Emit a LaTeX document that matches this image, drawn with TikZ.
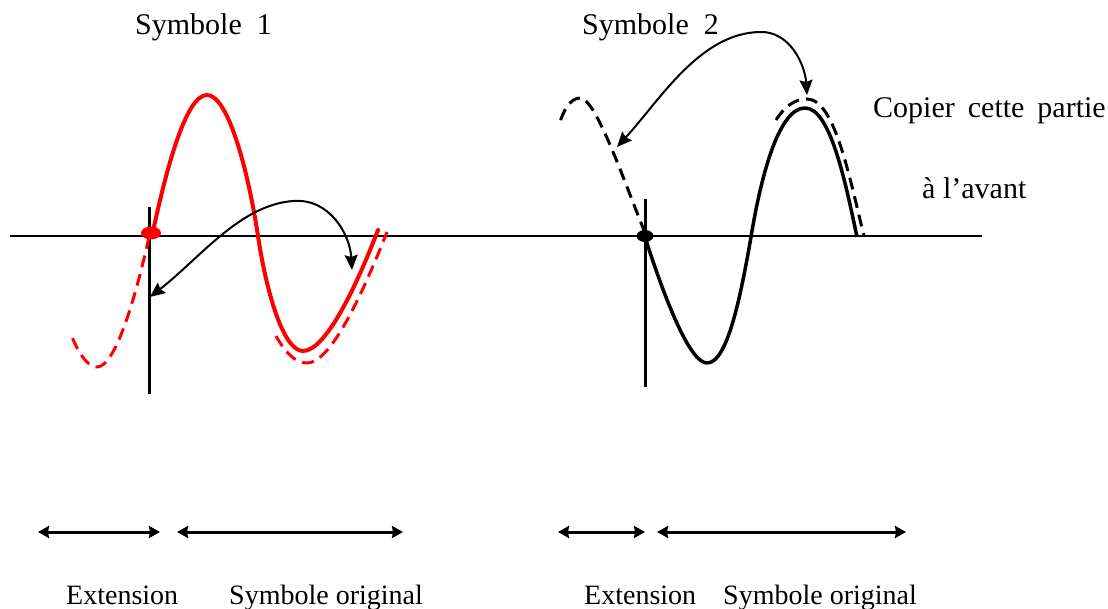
\documentclass[tikz,border=0pt]{standalone}
\usepackage{fontspec}
\setmainfont{Liberation Serif}
\usetikzlibrary{arrows.meta}
\begin{document}
\begin{tikzpicture}[x=1pt,y=-1pt,
  axisline/.style={line width=2pt},
  vline/.style={line width=3pt},
  redsolid/.style={red,line width=4pt,line join=round,line cap=round},
  reddash/.style={red,line width=3pt,dash pattern=on 12pt off 7pt},
  blksolid/.style={black,line width=3.5pt,line join=round},
  blkdash/.style={black,line width=3pt,dash pattern=on 12pt off 7pt},
  curvearrow/.style={line width=2pt,{Stealth[length=15pt,width=13pt,inset=2pt]}-{Stealth[length=15pt,width=13pt,inset=2pt]}},
  spanarrow/.style={line width=3pt,{Stealth[length=11pt,width=12pt,inset=1pt]}-{Stealth[length=11pt,width=12pt,inset=1pt]}},
  toplabel/.style={font=\fontsize{30}{36}\selectfont,inner sep=0pt,anchor=base west},
  botlabel/.style={font=\fontsize{28}{34}\selectfont,inner sep=0pt,anchor=base west},
]
\useasboundingbox (0,0) rectangle (1108,609);

% axis
\coordinate (axL) at (10,236);
\coordinate (axR) at (982,236);
\draw[axisline] (axL) -- (axR);

% ===== Symbole 1 =====
\coordinate (v1t) at (149,207);
\coordinate (v1b) at (149,394);
\draw[vline] (v1t) -- (v1b);
% dashed extension
\draw[reddash] (149,237) .. controls (135,300) and (115,367) .. (97,367) .. controls (85,367) and (75,345) .. (70,332);
% dashed copy near trough
\draw[reddash] (276,336) .. controls (285,352) and (295,363) .. (307,363) .. controls (330,363) and (360,300) .. (387,232);
% solid red
\draw[redsolid] (152,236) .. controls (165,175) and (185,95) .. (207,95)
  .. controls (228,95) and (248,170) .. (258,236)
  .. controls (266,290) and (283,351) .. (303,351)
  .. controls (325,351) and (355,290) .. (378,230);
\fill[red] (151,233) ellipse [x radius=10, y radius=6.5];
% arrow
\coordinate (a1s) at (150,297);
\coordinate (a1m) at (293,201);
\coordinate (a1e) at (352,270);
\draw[curvearrow] (a1s) .. controls (200,258) and (240,205) .. (a1m) .. controls (330,198) and (350,235) .. (a1e);

% ===== Symbole 2 =====
\coordinate (v2t) at (645,199);
\coordinate (v2b) at (645,387);
\draw[vline] (v2t) -- (v2b);
\draw[blkdash] (645,233) .. controls (620,170) and (595,98) .. (580,98) .. controls (570,98) and (563,112) .. (560,122);
\draw[blkdash] (776,120) .. controls (785,106) and (795,99) .. (807,99) .. controls (835,99) and (850,180) .. (864,236);
\draw[blksolid] (645,237) .. controls (665,300) and (690,363) .. (707,363)
  .. controls (727,363) and (740,300) .. (751,237)
  .. controls (762,170) and (780,108) .. (805,108)
  .. controls (830,108) and (845,180) .. (857,237);
\fill[black] (645,236) ellipse [x radius=8.5, y radius=6];
\coordinate (a2s) at (617,147);
\coordinate (a2m) at (760,32);
\coordinate (a2e) at (807,95);
\draw[curvearrow] (a2s) .. controls (660,100) and (700,33) .. (a2m) .. controls (790,31) and (805,65) .. (a2e);

% labels
\node[toplabel] (t1) at (135,35) {Symbole\hspace{15pt}1};
\node[toplabel] (t2) at (582,35) {Symbole\hspace{15pt}2};
\node[toplabel] (t3) at (873,118) {Copier\hspace{13pt}cette\hspace{13pt}partie};
\node[toplabel] (t4) at (922,199) {à l’avant};

% span arrows
\coordinate (b1a) at (38,532);  \coordinate (b1b) at (160,532);
\coordinate (b2a) at (177,532); \coordinate (b2b) at (403,532);
\coordinate (b3a) at (558,532); \coordinate (b3b) at (645,532);
\coordinate (b4a) at (657,532); \coordinate (b4b) at (906,532);
\draw[spanarrow] (b1a) -- (b1b);
\draw[spanarrow] (b2a) -- (b2b);
\draw[spanarrow] (b3a) -- (b3b);
\draw[spanarrow] (b4a) -- (b4b);

\node[botlabel] (e1) at (66,604) {Extension};
\node[botlabel] (o1) at (229,604) {Symbole original};
\node[botlabel] (e2) at (584,604) {Extension};
\node[botlabel] (o2) at (723,604) {Symbole original};
\end{tikzpicture}
\end{document}
